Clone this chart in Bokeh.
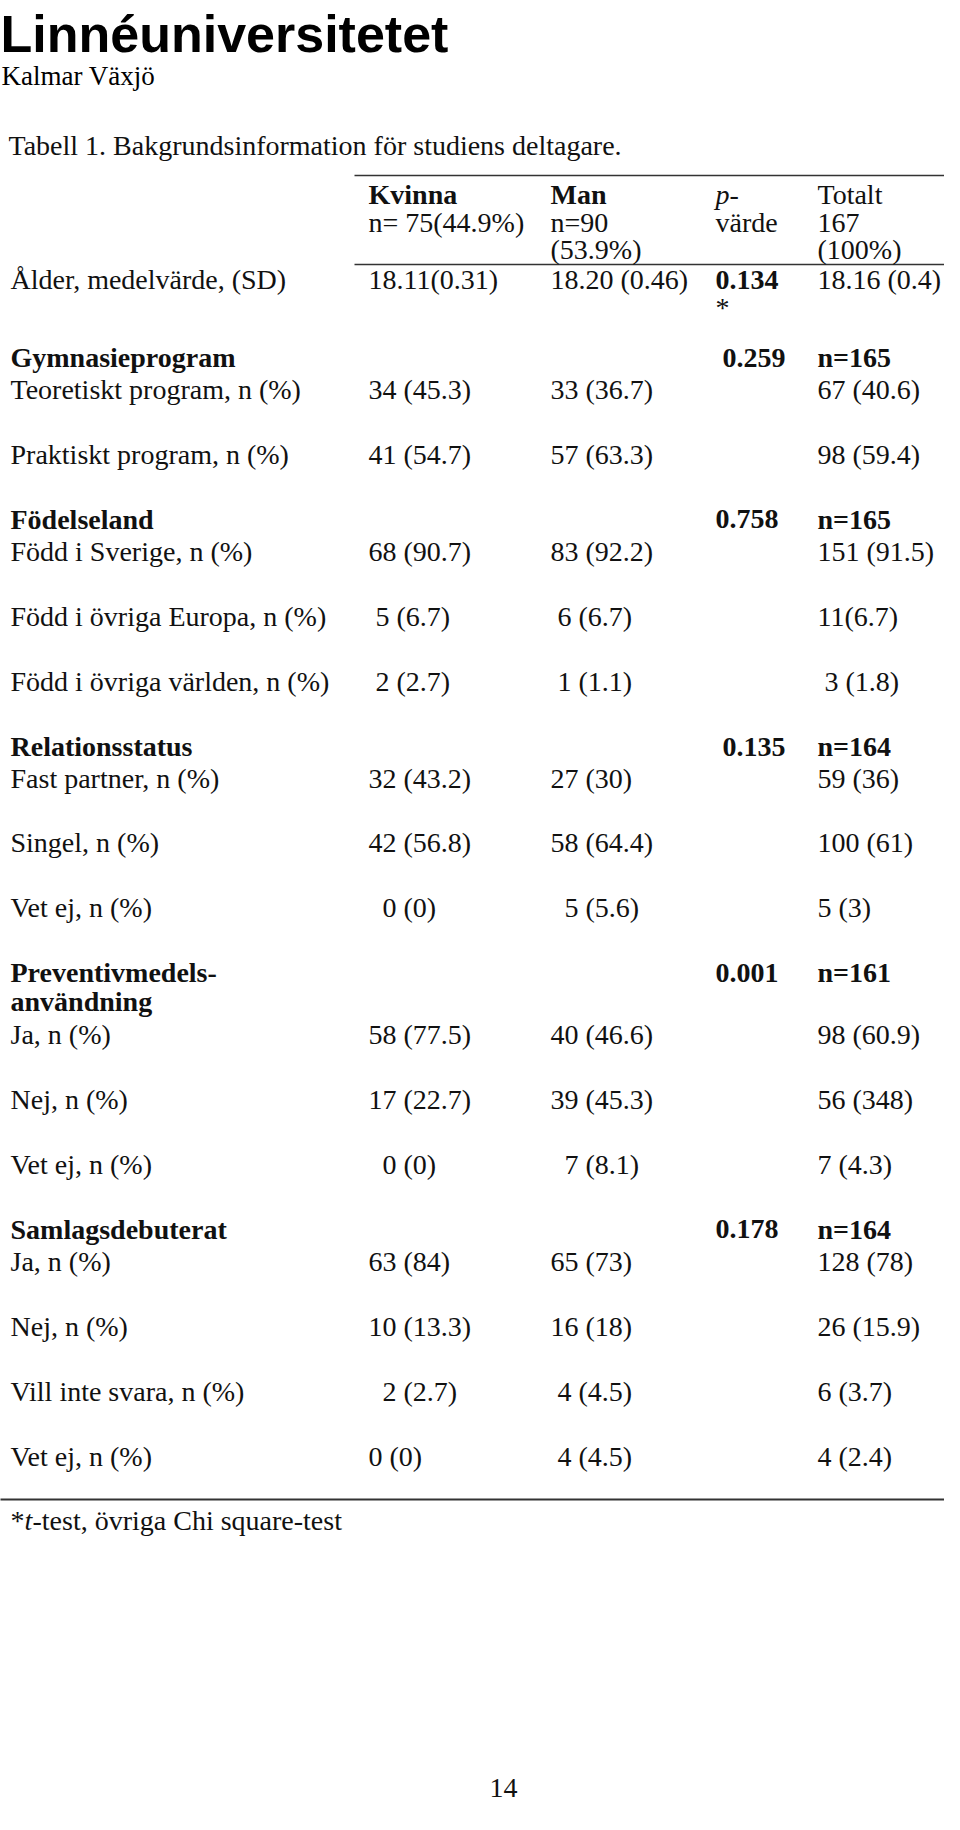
from bokeh.plotting import figure
from bokeh.models import Range1d, ColumnDataSource
from bokeh.core.properties import value
from bokeh.embed import file_html
from bokeh.resources import INLINE

NB = "\u00a0"

# ---------------- data ----------------
labels = [
    "Ålder, medelvärde, (SD)",
    "Gymnasieprogram",
    "Teoretiskt program, n (%)",
    "Praktiskt program, n (%)",
    "Födelseland",
    "Född i Sverige, n (%)",
    "Född i övriga Europa, n (%)",
    "Född i övriga världen, n (%)",
    "Relationsstatus",
    "Fast partner, n (%)",
    "Singel, n (%)",
    "Vet ej, n (%)",
    "Preventivmedels-\nanvändning",
    "Ja, n (%)",
    "Nej, n (%)",
    "Vet ej, n (%)",
    "Samlagsdebuterat",
    "Ja, n (%)",
    "Nej, n (%)",
    "Vill inte svara, n (%)",
    "Vet ej, n (%)",
]
is_group = [False, True, False, False, True, False, False, False, True, False, False, False,
            True, False, False, False, True, False, False, False, False]
kvinna = ["18.11(0.31)", "", "34 (45.3)", "41 (54.7)", "", "68 (90.7)", NB + "5 (6.7)",
          NB + "2 (2.7)", "", "32 (43.2)", "42 (56.8)", NB * 2 + "0 (0)", "", "58 (77.5)",
          "17 (22.7)", NB * 2 + "0 (0)", "", "63 (84)", "10 (13.3)", NB * 2 + "2 (2.7)", "0 (0)"]
man = ["18.20 (0.46)", "", "33 (36.7)", "57 (63.3)", "", "83 (92.2)", NB + "6 (6.7)",
       NB + "1 (1.1)", "", "27 (30)", "58 (64.4)", NB * 2 + "5 (5.6)", "", "40 (46.6)",
       "39 (45.3)", NB * 2 + "7 (8.1)", "", "65 (73)", "16 (18)", NB + "4 (4.5)", NB + "4 (4.5)"]
pvarde = ["0.134", NB + "0.259", "", "", "0.758", "", "", "", NB + "0.135", "", "", "",
          "0.001", "", "", "", "0.178", "", "", "", ""]
totalt = ["18.16 (0.4)", "n=165", "67 (40.6)", "98 (59.4)", "n=165", "151 (91.5)", "11(6.7)",
          NB + "3 (1.8)", "n=164", "59 (36)", "100 (61)", "5 (3)", "n=161", "98 (60.9)",
          "56 (348)", "7 (4.3)", "n=164", "128 (78)", "26 (15.9)", "6 (3.7)", "4 (2.4)"]

header_kvinna = ["Kvinna", "n= 75(44.9%)"]
header_man = ["Man", "n=90", "(53.9%)"]
header_p = ["p-", "värde"]
header_tot = ["Totalt", "167", "(100%)"]

# ---------------- layout ----------------
W, H = 944, 1814
OFF = 8
SERIF = value("Liberation Serif")
FS = "28px"

p = figure(width=W, height=H, output_backend="svg", toolbar_location=None,
           x_range=Range1d(0, W), y_range=Range1d(H, 0), min_border=0)
p.axis.visible = False
p.grid.visible = False
p.outline_line_color = None
p.background_fill_color = "white"
p.border_fill_color = "white"

def X(v):
    return v - OFF

def Y(v):
    return v - OFF

COL_LABEL, COL_K, COL_M, COL_P, COL_T = 18, 376, 558, 723, 825

def put(xs, ys, texts, style="normal", size=FS, font=SERIF, color="#111111",
        baseline="middle", align="left"):
    src = ColumnDataSource(dict(x=[X(a) for a in xs], y=[Y(b) for b in ys], t=texts))
    p.text(x="x", y="y", text="t", source=src, text_font=font, text_font_size=size,
           text_font_style=style, text_color=color, text_baseline=baseline, text_align=align)

# logo
put([8], [41], ["Linnéuniversitetet"], style="bold", size="52px",
    font=value("Liberation Sans"), color="#000000", baseline="alphabetic")
put([9], [83], ["Kalmar Växjö"], size="27px", baseline="alphabetic", color="#000000")

# title
put([16], [153], ["Tabell 1. Bakgrundsinformation för studiens deltagare."])

# rules
p.segment(x0=[X(362)], y0=[Y(183)], x1=[X(959)], y1=[Y(183)], line_color="#333333", line_width=1.5)
p.segment(x0=[X(362)], y0=[Y(272)], x1=[X(959)], y1=[Y(272)], line_color="#333333", line_width=1.5)
p.segment(x0=[X(0)], y0=[Y(1507)], x1=[X(959)], y1=[Y(1507)], line_color="#333333", line_width=2)

# header
hy = [202, 230, 257]
put([COL_K], [hy[0]], [header_kvinna[0]], style="bold")
put([COL_K], [hy[1]], [header_kvinna[1]])
put([COL_M], [hy[0]], [header_man[0]], style="bold")
put([COL_M, COL_M], hy[1:], header_man[1:])
put([COL_P], [hy[0]], [header_p[0]], style="italic")
put([COL_P], [hy[1]], [header_p[1]])
put([COL_T] * 3, hy, header_tot)

# body rows
ys = []
y = 287.0
for i, lab in enumerate(labels):
    ys.append(y)
    nlines = lab.count("\n") + 1
    if i == 0:
        y += 78
    elif is_group[i]:
        y += 32 + 30 * (nlines - 1)
    else:
        y += 64.9

for i, lab in enumerate(labels):
    st = "bold" if is_group[i] else "normal"
    lines = lab.split("\n")
    put([COL_LABEL] * len(lines), [ys[i] + 29 * k for k in range(len(lines))], lines, style=st)
    if kvinna[i]:
        put([COL_K], [ys[i]], [kvinna[i]])
    if man[i]:
        put([COL_M], [ys[i]], [man[i]])
    if pvarde[i]:
        put([COL_P], [ys[i]], [pvarde[i]], style="bold")
    if totalt[i]:
        put([COL_T], [ys[i]], [totalt[i]], style="bold" if is_group[i] else "normal")

# t-test marker under first p-value
put([COL_P], [ys[0] + 28], ["*"])

# footnote
put([18], [1528], ["*"])
put([32], [1528], ["t"], style="italic")
put([40], [1528], ["-test, övriga Chi square-test"])

# page number
put([511], [1795], ["14"], align="center")

open("out.html", "w").write(file_html(p, INLINE))
